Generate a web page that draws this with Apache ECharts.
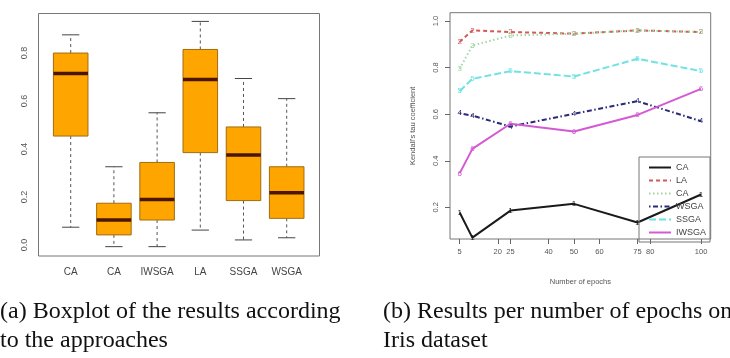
<!DOCTYPE html>
<html>
<head>
<meta charset="utf-8">
<script src="https://cdn.jsdelivr.net/npm/echarts@6/dist/echarts.min.js"></script>
<style>
  html, body { margin: 0; padding: 0; background: #fff; }
  #chart { width: 730px; height: 358px; }
</style>
</head>
<body>
<div id="chart"></div>
<script>
// (a) boxplot per approach
const boxCategories = ['CA', 'CA', 'IWSGA', 'LA', 'SSGA', 'WSGA'];
const boxMin = [0.074, -0.007, -0.007, 0.062, 0.021, 0.030];
const boxQ1 = [0.454, 0.042, 0.104, 0.385, 0.185, 0.111];
const boxMedian = [0.715, 0.104, 0.190, 0.690, 0.375, 0.218];
const boxQ3 = [0.800, 0.174, 0.344, 0.815, 0.492, 0.326];
const boxMax = [0.876, 0.326, 0.551, 0.932, 0.694, 0.610];
const boxTicks = [0, 0.2, 0.4, 0.6, 0.8];

// (b) results per number of epochs (Iris)
const epochs = [5, 10, 25, 50, 75, 100];
const epochTicks = [5, 20, 25, 40, 50, 60, 75, 80, 100];
const kendallTicks = [0.2, 0.4, 0.6, 0.8, 1.0];
const lineNames = ['CA', 'LA', 'CA ', 'WSGA', 'SSGA', 'IWSGA'];
const caScores = [0.178, 0.070, 0.186, 0.215, 0.135, 0.255];
const laScores = [0.910, 0.960, 0.953, 0.946, 0.960, 0.953];
const ca2Scores = [0.795, 0.895, 0.938, 0.946, 0.960, 0.953];
const wsgaScores = [0.604, 0.594, 0.547, 0.602, 0.656, 0.570];
const ssgaScores = [0.699, 0.752, 0.785, 0.762, 0.838, 0.785];
const iwsgaScores = [0.346, 0.451, 0.559, 0.526, 0.597, 0.709];

const lineScores = [caScores, laScores, ca2Scores, wsgaScores, ssgaScores, iwsgaScores];
const lineColors = ['#1a1a1a', '#d25a5a', '#9fd89f', '#2a2a78', '#6fe3e3', '#d35ad3'];
const lineDash = ['solid', [4, 3], [1.5, 2.5], [1.5, 2.5, 5, 2.5], [7, 3], 'solid'];

const chart = echarts.init(document.getElementById('chart'));

const boxData = boxCategories.map((c, i) => [i, boxMin[i], boxQ1[i], boxMedian[i], boxQ3[i], boxMax[i]]);

function renderBox(params, api) {
  const i = api.value(0);
  const bw = api.size([1, 0])[0] * 0.8;
  const sw = bw * 0.5;
  const pMin = api.coord([i, api.value(1)]);
  const pQ1 = api.coord([i, api.value(2)]);
  const pMed = api.coord([i, api.value(3)]);
  const pQ3 = api.coord([i, api.value(4)]);
  const pMax = api.coord([i, api.value(5)]);
  const x = pMed[0];
  const whisker = { stroke: '#555', lineWidth: 1, lineDash: [3, 3] };
  const staple = { stroke: '#444', lineWidth: 1 };
  return {
    type: 'group',
    children: [
      { type: 'line', shape: { x1: x, y1: pQ3[1], x2: x, y2: pMax[1] }, style: whisker },
      { type: 'line', shape: { x1: x, y1: pQ1[1], x2: x, y2: pMin[1] }, style: whisker },
      { type: 'line', shape: { x1: x - sw / 2, y1: pMax[1], x2: x + sw / 2, y2: pMax[1] }, style: staple },
      { type: 'line', shape: { x1: x - sw / 2, y1: pMin[1], x2: x + sw / 2, y2: pMin[1] }, style: staple },
      { type: 'rect', shape: { x: x - bw / 2, y: pQ3[1], width: bw, height: pQ1[1] - pQ3[1] },
        style: { fill: '#ffa500', stroke: '#a06c10', lineWidth: 1 } },
      { type: 'line', shape: { x1: x - bw / 2, y1: pMed[1], x2: x + bw / 2, y2: pMed[1] },
        style: { stroke: '#4b1600', lineWidth: 3.5 } }
    ]
  };
}

const lineSeries = lineScores.map((scores, k) => ({
  name: lineNames[k],
  type: 'line',
  xAxisIndex: 1,
  yAxisIndex: 1,
  data: epochs.map((e, j) => [e, scores[j]]),
  symbol: 'circle',
  symbolSize: 1,
  itemStyle: { color: 'rgba(0,0,0,0)' },
  lineStyle: { color: lineColors[k], width: 2, type: lineDash[k] },
  label: {
    show: true,
    position: 'inside',
    formatter: String(k + 1),
    fontSize: 8,
    fontFamily: 'Liberation Sans',
    color: lineColors[k]
  },
  emphasis: { disabled: true },
  animation: false,
  z: 3
}));

const option = {
  animation: false,
  backgroundColor: '#fff',
  textStyle: { fontFamily: 'Liberation Sans' },
  grid: [
    { left: 49.1, width: 259.2, top: 13, bottom: 102, show: false },
    { left: 450, right: 19.3, top: 12.7, bottom: 119, show: true,
      borderColor: '#777', borderWidth: 1, backgroundColor: 'transparent' }
  ],
  xAxis: [
    {
      type: 'category', gridIndex: 0, data: boxCategories, boundaryGap: true,
      axisLine: { show: false },
      axisTick: { alignWithLabel: true, interval: 0, length: 6, lineStyle: { color: '#666' } },
      axisLabel: { interval: 0, fontSize: 10, color: '#444', margin: 11 },
      splitLine: { show: false }
    },
    {
      type: 'value', gridIndex: 1, min: 1.2, max: 103.8,
      axisLine: { show: false },
      axisTick: { customValues: epochTicks, length: 5, lineStyle: { color: '#666' } },
      axisLabel: { customValues: epochTicks, fontSize: 7.5, color: '#555', margin: 9 },
      splitLine: { show: false },
      name: 'Number of epochs', nameLocation: 'middle', nameGap: 39,
      nameTextStyle: { fontSize: 7.5, color: '#555' }
    }
  ],
  yAxis: [
    {
      type: 'value', gridIndex: 0, min: -0.046, max: 0.967, offset: 11,
      axisLine: { show: false },
      axisTick: { customValues: boxTicks, length: 5, lineStyle: { color: '#666' } },
      axisLabel: { customValues: boxTicks, rotate: 90, fontSize: 9, color: '#555', margin: 9,
        formatter: v => v.toFixed(1) },
      splitLine: { show: false }
    },
    {
      type: 'value', gridIndex: 1, min: 0.064, max: 1.036,
      axisLine: { show: false },
      axisTick: { customValues: kendallTicks, length: 5, lineStyle: { color: '#666' } },
      axisLabel: { customValues: kendallTicks, rotate: 90, fontSize: 7.5, color: '#555', margin: 10,
        formatter: v => v.toFixed(1) },
      splitLine: { show: false },
      name: "Kendall's tau coefficient", nameLocation: 'middle', nameGap: 33,
      nameTextStyle: { fontSize: 7.5, color: '#555' }
    }
  ],
  legend: {
    orient: 'vertical',
    left: 639,
    top: 157,
    padding: [6, 4, 5, 9],
    itemWidth: 22,
    itemHeight: 8,
    itemGap: 4,
    borderColor: '#777',
    borderWidth: 1,
    data: lineNames,
    itemStyle: { color: 'rgba(0,0,0,0)', borderWidth: 0 },
    textStyle: { fontSize: 9, color: '#444', lineHeight: 8 },
    formatter: n => n.trim()
  },
  graphic: [
    { type: 'rect', shape: { x: 38.5, y: 13.5, width: 281, height: 242.5 },
      style: { fill: 'none', stroke: '#777', lineWidth: 1 }, z: 0 },
    { type: 'text', x: 0, y: 297,
      style: { text: '(a) Boxplot of the results according\nto the approaches',
        font: '24px "Liberation Serif"', lineHeight: 29, fill: '#111', textVerticalAlign: 'top' } },
    { type: 'text', x: 383, y: 297,
      style: { text: '(b) Results per number of epochs on\nIris dataset',
        font: '24px "Liberation Serif"', lineHeight: 29, fill: '#111', textVerticalAlign: 'top' } }
  ],
  series: [
    {
      type: 'custom',
      xAxisIndex: 0,
      yAxisIndex: 0,
      data: boxData,
      encode: { x: 0, y: [1, 2, 3, 4, 5] },
      renderItem: renderBox,
      z: 2
    }
  ].concat(lineSeries)
};

chart.setOption(option);
</script>
</body>
</html>
